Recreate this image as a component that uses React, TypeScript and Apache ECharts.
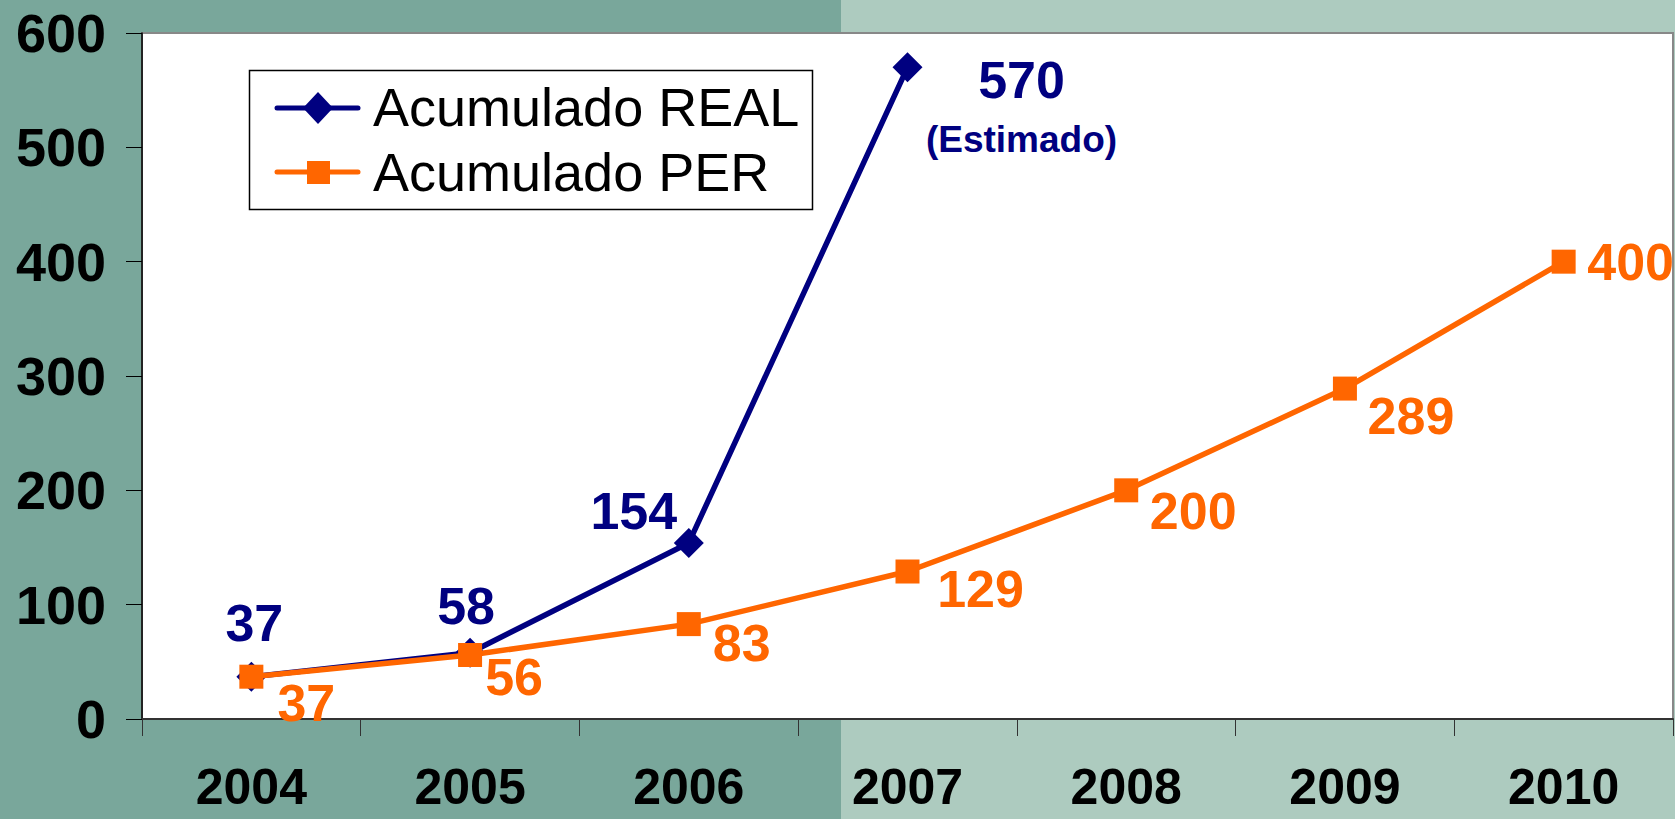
import React, { useEffect, useRef } from "react";
import * as echarts from "echarts";

const years = ["2004", "2005", "2006", "2007", "2008", "2009", "2010"];
const realValues = [37, 58, 154, 570];
const perValues = [37, 56, 83, 129, 200, 289, 400];
const realName = "Acumulado REAL";
const perName = "Acumulado PER";
const estimateNote = "(Estimado)";
const yMin = 0;
const yMax = 600;
const yInterval = 100;

// label placement (pixel offsets from each point)
const realLabelOffsets = [[3, -54], [-4, -47], [-55, -32], [114, 42]];
const perLabelOffsets = [[55, 26], [44, 22], [53, 19], [73, 17], [67, 21], [66, 27], [67, 0]];

const NAVY = "#000080";
const ORANGE = "#FF6600";
const FONT = "'Liberation Sans', Arial, Helvetica, sans-serif";

export default function App() {
  const ref = useRef<HTMLDivElement>(null);

  useEffect(() => {
    if (!ref.current) return;
    const chart = echarts.init(ref.current, undefined, { renderer: "svg" });

    const split = 841 / 1675;
    const option: any = {
      animation: false,
      backgroundColor: new echarts.graphic.LinearGradient(0, 0, 1, 0, [
        { offset: 0, color: "#79A79B" },
        { offset: split, color: "#79A79B" },
        { offset: split, color: "#ADCBBF" },
        { offset: 1, color: "#ADCBBF" },
      ]),
      grid: {
        left: 142,
        top: 33,
        right: 2,
        bottom: 100,
        show: true,
        backgroundColor: "#FFFFFF",
        borderColor: "#888888",
        borderWidth: 2,
        containLabel: false,
        outerBoundsMode: "none",
      },
      xAxis: {
        type: "category",
        data: years,
        boundaryGap: true,
        axisLine: { show: true, lineStyle: { color: "#333333", width: 2 } },
        axisTick: { show: true, length: 17, lineStyle: { color: "#333333", width: 1 } },
        axisLabel: {
          color: "#000",
          fontSize: 50,
          fontWeight: "bold",
          fontFamily: FONT,
          margin: 43,
        },
        splitLine: { show: false },
      },
      yAxis: {
        type: "value",
        min: yMin,
        max: yMax,
        interval: yInterval,
        axisLine: { show: true, lineStyle: { color: "#000", width: 1.5 } },
        axisTick: { show: true, length: 16, lineStyle: { color: "#000", width: 1 } },
        axisLabel: {
          color: "#000",
          fontSize: 54,
          fontWeight: "bold",
          fontFamily: FONT,
          margin: 36,
        },
        splitLine: { show: false },
      },
      series: [
        {
          name: realName,
          type: "line",
          data: realValues.map((v, i) => ({
            value: v,
            label: { offset: realLabelOffsets[i] },
          })),
          symbol: "diamond",
          symbolSize: 30,
          lineStyle: { color: NAVY, width: 5.5 },
          itemStyle: { color: NAVY },
          label: {
            show: true,
            position: "inside",
            formatter: (p: any) =>
              p.dataIndex === realValues.length - 1
                ? `{a|${p.value}}\n{b|${estimateNote}}`
                : `{a|${p.value}}`,
            rich: {
              a: {
                color: NAVY,
                fontSize: 52,
                fontWeight: "bold",
                fontFamily: FONT,
                lineHeight: 60,
                align: "center",
              },
              b: {
                color: NAVY,
                fontSize: 37,
                fontWeight: "bold",
                fontFamily: FONT,
                lineHeight: 58,
                align: "center",
              },
            },
          },
          z: 2,
        },
        {
          name: perName,
          type: "line",
          data: perValues.map((v, i) => ({
            value: v,
            label: { offset: perLabelOffsets[i] },
          })),
          symbol: "rect",
          symbolSize: 24,
          lineStyle: { color: ORANGE, width: 5.5 },
          itemStyle: { color: ORANGE },
          label: {
            show: true,
            position: "inside",
            color: ORANGE,
            fontSize: 52,
            fontWeight: "bold",
            fontFamily: FONT,
          },
          z: 3,
        },
      ],
      graphic: [
        {
          type: "group",
          z: 100,
          children: [
            {
              type: "rect",
              shape: { x: 249.5, y: 70.5, width: 563, height: 139 },
              style: { fill: "#FFFFFF", stroke: "#000", lineWidth: 1.5 },
              z: 100,
            },
            {
              type: "line",
              shape: { x1: 277, y1: 108, x2: 358, y2: 108 },
              style: { stroke: NAVY, lineWidth: 5, lineCap: "round" },
              z: 101,
            },
            {
              type: "polygon",
              shape: { points: [[318, 92], [333, 108], [318, 124], [303, 108]] },
              style: { fill: NAVY },
              z: 102,
            },
            {
              type: "line",
              shape: { x1: 277, y1: 172, x2: 358, y2: 172 },
              style: { stroke: ORANGE, lineWidth: 5, lineCap: "round" },
              z: 101,
            },
            {
              type: "rect",
              shape: { x: 307, y: 161, width: 23, height: 23 },
              style: { fill: ORANGE },
              z: 102,
            },
            {
              type: "text",
              x: 373,
              y: 107,
              style: {
                text: realName,
                fill: "#000",
                font: `54px ${FONT}`,
                verticalAlign: "middle",
              },
              z: 102,
            },
            {
              type: "text",
              x: 373,
              y: 172,
              style: {
                text: perName,
                fill: "#000",
                font: `54px ${FONT}`,
                verticalAlign: "middle",
              },
              z: 102,
            },
          ],
        },
      ],
    };

    chart.setOption(option);
    return () => chart.dispose();
  }, []);

  return (
    <div
      ref={ref}
      style={{ position: "fixed", left: 0, top: 0, width: 1675, height: 819 }}
    />
  );
}
